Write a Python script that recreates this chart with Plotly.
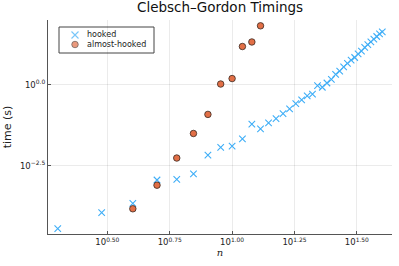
import plotly.graph_objects as go

# Data (n, time in seconds)
hooked_n = list(range(2, 41))
hooked_t = [3.6e-5, 1.12e-4, 2.19e-4, 1.15e-3, 1.20e-3, 1.78e-3, 6.76e-3, 1.17e-2, 1.29e-2,
            2.14e-2, 6.17e-2, 4.37e-2, 6.76e-2, 9.12e-2, 0.129, 0.182, 0.263, 0.347, 0.457,
            0.525, 0.955, 0.851, 1.15, 1.48, 2.14, 2.69, 3.63, 4.68, 5.89, 7.08, 9.12,
            11.2, 14.5, 17.8, 21.4, 26.3, 31.6, 38.0, 43.7]
almost_n = list(range(4, 14))
almost_t = [1.48e-4, 7.94e-4, 5.50e-3, 3.16e-2, 0.123, 1.07, 1.58, 15.5, 21.4, 67.6]

series_names = ["hooked", "almost-hooked"]

x_tickvals = [10**0.5, 10**0.75, 10**1.0, 10**1.25, 10**1.5]
x_ticktext = ["10<sup>0.50</sup>", "10<sup>0.75</sup>", "10<sup>1.00</sup>",
              "10<sup>1.25</sup>", "10<sup>1.50</sup>"]
y_tickvals = [10**-2.5, 10**0.0]
y_ticktext = ["10<sup>−2.5</sup>", "10<sup>0.0</sup>"]

BLUE = "#3FAEF7"
ORANGE = "#E26F46"

hooked_marker = dict(symbol="x-thin", size=6.5, color=BLUE, line=dict(width=1.1, color=BLUE))
almost_marker = dict(symbol="circle", size=6.5, color=ORANGE, line=dict(width=0.8, color="#3a2a22"))

fig = go.Figure()
fig.add_trace(go.Scatter(x=hooked_n, y=hooked_t, mode="markers", name=series_names[0],
                         marker=hooked_marker, showlegend=False))
fig.add_trace(go.Scatter(x=almost_n, y=almost_t, mode="markers", name=series_names[1],
                         marker=almost_marker, showlegend=False))

# Compact legend drawn on a hidden overlay axis (pixel-like units of the plot area)
fig.add_trace(go.Scatter(x=[75, 75], y=[35, 44.5], mode="markers", xaxis="x2", yaxis="y2",
                         marker=dict(symbol=["x-thin", "circle"], size=[7, 6.5],
                                     color=[BLUE, ORANGE],
                                     line=dict(width=[1.1, 0.8], color=[BLUE, "#3a2a22"])),
                         showlegend=False, hoverinfo="skip"))
fig.add_trace(go.Scatter(x=[87, 87], y=[35, 44.5], mode="text", xaxis="x2", yaxis="y2",
                         text=series_names, textposition="middle right",
                         textfont=dict(family="DejaVu Sans", size=8, color="#222"),
                         showlegend=False, hoverinfo="skip"))
fig.add_shape(type="rect", xref="x2", yref="y2", x0=59, x1=154, y0=27, y1=53,
              line=dict(color="#444", width=1), fillcolor="rgba(255,255,255,0)", layer="below")

axis_common = dict(
    showgrid=True, gridcolor="rgba(0,0,0,0.08)", gridwidth=1,
    showline=True, linecolor="#555", linewidth=1.2, mirror=False,
    ticks="inside", ticklen=3, tickcolor="#555", zeroline=False, automargin=False,
    tickfont=dict(family="DejaVu Sans", size=8.5, color="#222"),
)

fig.update_layout(
    width=399, height=266,
    margin=dict(l=48, r=7, t=20, b=32, autoexpand=False),
    paper_bgcolor="white", plot_bgcolor="white",
    title=dict(text="Clebsch–Gordon Timings", x=0.5515, xanchor="center",
               y=0.99, yanchor="top", automargin=False,
               font=dict(family="DejaVu Sans", size=13.5, color="#111")),
    xaxis=dict(type="log", range=[0.262, 1.641], tickvals=x_tickvals,
               ticktext=x_ticktext,
               title=dict(text="<i>n</i>", standoff=0,
                          font=dict(family="DejaVu Serif", size=10, color="#222")),
               **axis_common),
    yaxis=dict(type="log", range=[-4.61, 2.01], tickvals=y_tickvals,
               ticktext=y_ticktext,
               title=dict(text="time (s)", standoff=6,
                          font=dict(family="DejaVu Sans", size=11, color="#222")),
               **axis_common),
    xaxis2=dict(overlaying="x", range=[48, 392], visible=False, fixedrange=True),
    yaxis2=dict(overlaying="y", range=[234, 20], visible=False, fixedrange=True),
    showlegend=False,
)

fig.write_html("out.html", config={"displayModeBar": False},
               post_script="document.body.style.margin='0';")
